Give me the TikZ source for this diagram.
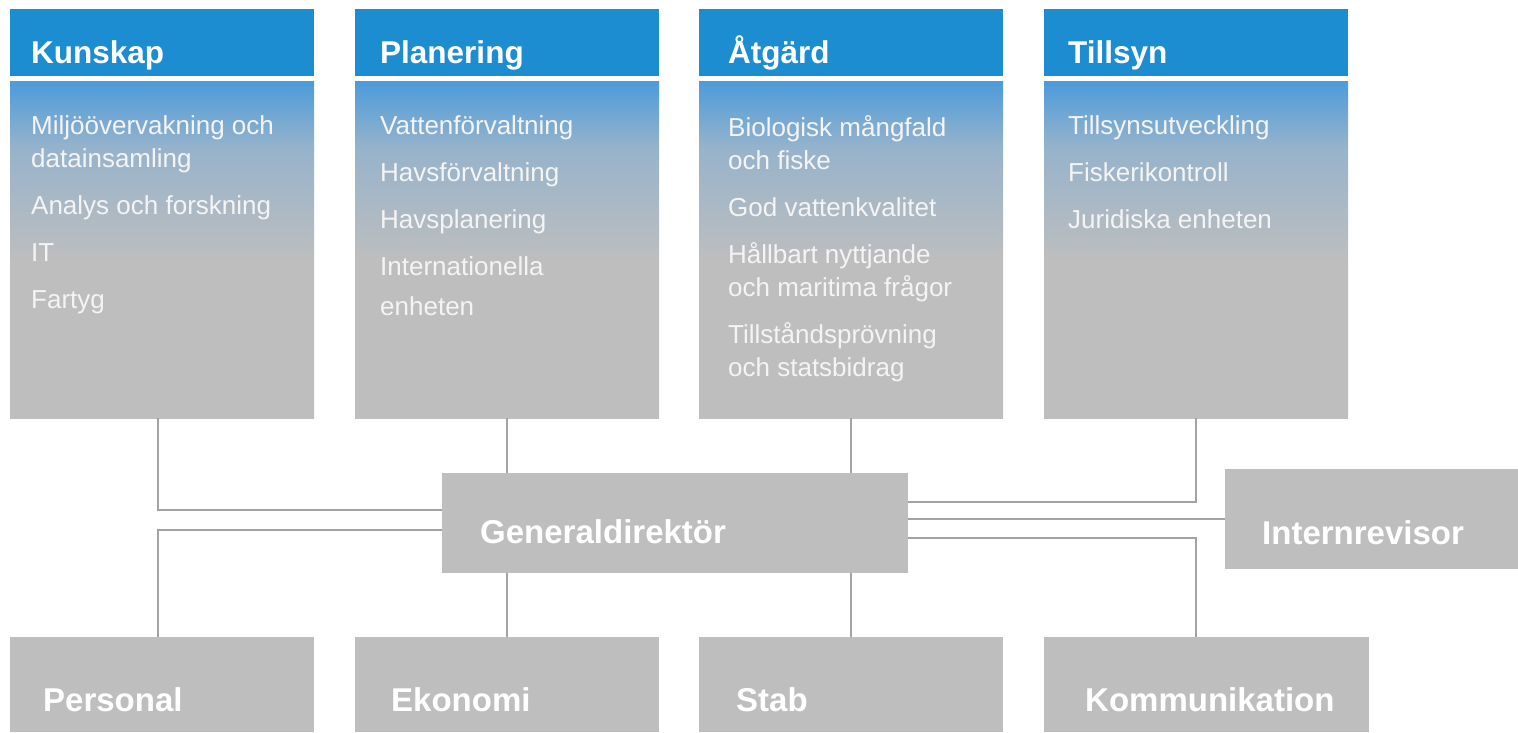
\documentclass[tikz,border=0pt]{standalone}
\usepackage{fontspec}
\setmainfont{Liberation Sans}
\usetikzlibrary{positioning}
\definecolor{hvblue}{HTML}{1C8DD0}
\definecolor{hvlight}{HTML}{4C9BDB}
\definecolor{hvmid}{HTML}{97B3CB}
\definecolor{hvgray}{HTML}{BEBEBE}
\definecolor{hvline}{HTML}{A3A3A3}
\definecolor{hvtext}{HTML}{F4F4F4}
\pgfdeclareverticalshading{hvfade}{100bp}{color(0bp)=(hvgray); color(48bp)=(hvgray); color(65bp)=(hvmid); color(75bp)=(hvlight); color(100bp)=(hvlight)}
\tikzset{
  head/.style={fill=hvblue, minimum width=304pt, minimum height=67pt, inner sep=0pt, anchor=north west},
  body/.style={shading=hvfade, minimum width=304pt, minimum height=337pt, inner sep=0pt, anchor=north west},
  unit/.style={fill=hvgray, minimum width=304pt, minimum height=95pt, inner sep=0pt, anchor=north west},
  headtxt/.style={text=white, font=\bfseries\fontsize{31.5}{38}\selectfont, inner sep=0pt, anchor=base west},
  unittxt/.style={text=white, font=\bfseries\fontsize{33}{40}\selectfont, inner sep=0pt, anchor=base west},
  listtxt/.style={text=hvtext, font=\fontsize{26}{33}\selectfont, align=left, inner sep=0pt, anchor=north west},
  link/.style={draw=hvline, line width=2.4pt}
}
\begin{document}
\begin{tikzpicture}[x=1pt,y=-1pt]
    \useasboundingbox (0,0) rectangle (1518,732);
    %KUNSKAP:
     \begin{scope}[xshift=10pt]
     \node[head] (kunskapHead) at (0,9) {};
     \node[headtxt] (kunskapTitle) at ([xshift=21pt,yshift=13pt]kunskapHead.south west) {Kunskap};
     \node[body] (kunskapBody) at (0,81) {};
     \node[listtxt] (kunskapList) at ([xshift=21pt,yshift=-34pt]kunskapBody.north west)
       {Miljöövervakning och\\datainsamling\\[14pt]Analys och forskning\\[14pt]IT\\[14pt]Fartyg};
     \end{scope}
    %PLANERING:
     \begin{scope}[xshift=355pt]
     \node[head] (planeringHead) at (0,9) {};
     \node[headtxt] (planeringTitle) at ([xshift=25pt,yshift=13pt]planeringHead.south west) {Planering};
     \node[body] (planeringBody) at (0,81) {};
     \node[listtxt] (planeringList) at ([xshift=25pt,yshift=-34pt]planeringBody.north west)
       {Vattenförvaltning\\[14pt]Havsförvaltning\\[14pt]Havsplanering\\[14pt]Internationella\\[7pt]enheten};
     \end{scope}
    %ATGARD:
     \begin{scope}[xshift=699pt]
     \node[head] (atgardHead) at (0,9) {};
     \node[headtxt] (atgardTitle) at ([xshift=29pt,yshift=13pt]atgardHead.south west) {Åtgärd};
     \node[body] (atgardBody) at (0,81) {};
     \node[listtxt] (atgardList) at ([xshift=29pt,yshift=-34pt]atgardBody.north west)
       {Biologisk mångfald\\och fiske\\[14pt]God vattenkvalitet\\[14pt]Hållbart nyttjande\\och maritima frågor\\[14pt]Tillståndsprövning\\och statsbidrag};
     \end{scope}
    %TILLSYN:
     \begin{scope}[xshift=1044pt]
     \node[head] (tillsynHead) at (0,9) {};
     \node[headtxt] (tillsynTitle) at ([xshift=24pt,yshift=13pt]tillsynHead.south west) {Tillsyn};
     \node[body] (tillsynBody) at (0,81) {};
     \node[listtxt] (tillsynList) at ([xshift=24pt,yshift=-34pt]tillsynBody.north west)
       {Tillsynsutveckling\\[14pt]Fiskerikontroll\\[14pt]Juridiska enheten};
     \end{scope}
    %LEDNING:
     \node[unit, minimum width=466pt, minimum height=100pt] (gd) at (442,473) {};
     \node[unittxt] (gdTitle) at ([xshift=38pt,yshift=30pt]gd.south west) {Generaldirektör};
     \node[unit, minimum width=293pt, minimum height=100pt] (revisor) at (1225,469) {};
     \node[unittxt] (revisorTitle) at ([xshift=37pt,yshift=25pt]revisor.south west) {Internrevisor};
    %STOD:
     \node[unit] (personal) at (10,637) {};
     \node[unittxt] (personalTitle) at ([xshift=33pt,yshift=21pt]personal.south west) {Personal};
     \node[unit] (ekonomi) at (355,637) {};
     \node[unittxt] (ekonomiTitle) at ([xshift=36pt,yshift=21pt]ekonomi.south west) {Ekonomi};
     \node[unit] (stab) at (699,637) {};
     \node[unittxt] (stabTitle) at ([xshift=37pt,yshift=21pt]stab.south west) {Stab};
     \node[unit, minimum width=325pt] (kommunikation) at (1044,637) {};
     \node[unittxt] (kommunikationTitle) at ([xshift=41pt,yshift=21pt]kommunikation.south west) {Kommunikation};
    %LINJER:
     \draw[link] ([xshift=-4pt]kunskapBody.south) |- ([yshift=13pt]gd.west);
     \draw[link] ([xshift=-4pt]personal.north) |- ([yshift=-7pt]gd.west);
     \draw[link] (planeringBody.south) -- (planeringBody.south |- gd.north);
     \draw[link] (ekonomi.north) -- (ekonomi.north |- gd.south);
     \draw[link] (atgardBody.south) -- (atgardBody.south |- gd.north);
     \draw[link] (stab.north) -- (stab.north |- gd.south);
     \draw[link] (tillsynBody.south) |- ([yshift=21pt]gd.east);
     \draw[link] (revisor.west) -- (revisor.west -| gd.east);
     \draw[link] (kommunikation.north -| tillsynBody.south) |- ([yshift=-15pt]gd.east);
\end{tikzpicture}
\end{document}
